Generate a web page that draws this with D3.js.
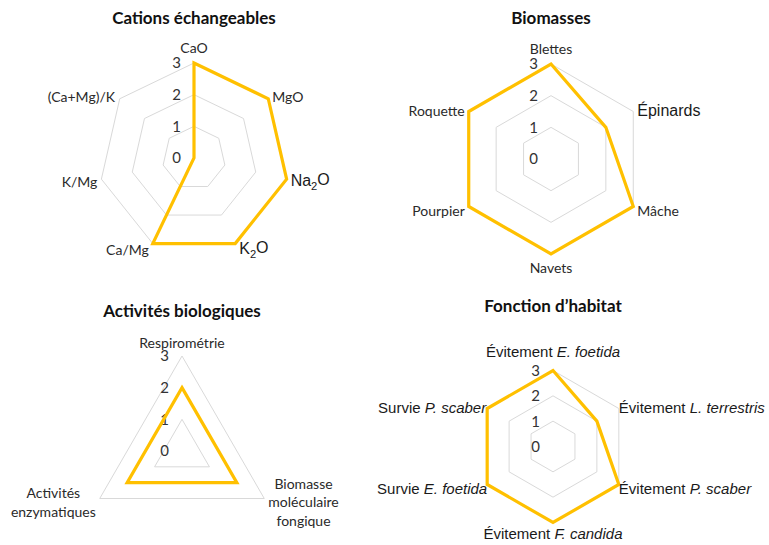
<!DOCTYPE html>
<html>
<head>
<meta charset="utf-8">
<script src="https://cdn.jsdelivr.net/npm/d3@7"></script>
<style>
  body { margin: 0; background: #fff; }
  svg { display: block; }
</style>
</head>
<body>
<svg id="chart" width="769" height="545"></svg>
<script>
// ---- data ----
const ticks = [0, 1, 2, 3];

const cationAxes = ["CaO", "MgO", "Na2O", "K2O", "Ca/Mg", "K/Mg", "(Ca+Mg)/K"];
const cationValues = [3, 3, 3, 3, 3, 0, 0];

const biomassAxes = ["Blettes", "Épinards", "Mâche", "Navets", "Pourpier", "Roquette"];
const biomassValues = [3, 2, 3, 3, 3, 3];

const activityAxes = ["Respirométrie", "Biomasse\nmoléculaire\nfongique", "Activités\nenzymatiques"];
const activityValues = [2, 2, 2];

const habitatPrefix = ["Évitement", "Évitement", "Évitement", "Évitement", "Survie", "Survie"];
const habitatSpecies = ["E. foetida", "L. terrestris", "P. scaber", "F. candida", "E. foetida", "P. scaber"];
const habitatValues = [3, 2, 3, 3, 3, 3];

// ---- styling ----
const LINE = "#FFC000";
const GRID = "#d9d9d9";
const CAL = "Lato, 'Open Sans', sans-serif";
const ARIAL = "'Liberation Sans', Arial, sans-serif";

const svg = d3.select("#chart");

// label renderers
function plainLabel(text, name) {
  const lines = name.split("\n");
  lines.forEach((ln, k) => {
    text.append("tspan").attr("x", 0).attr("dy", k === 0 ? 0 : "1.32em").text(ln);
  });
}
function chemLabel(text, name) {
  // digits inside a formula are drawn as subscripts
  const parts = name.split(/(\d)/).filter(p => p.length);
  parts.forEach(p => {
    if (/^\d$/.test(p)) {
      text.append("tspan").attr("font-size", "0.7em").attr("dy", "0.3em").text(p);
    } else {
      const t = text.append("tspan").text(p);
      if (text.selectAll("tspan").size() > 1) t.attr("dy", "-0.3em");
    }
  });
}
function speciesLabel(text, d) {
  text.append("tspan").text(d.prefix + " ");
  text.append("tspan").attr("font-style", "italic").text(d.species);
}

function radar(cfg) {
  const n = cfg.labels.length;
  const r = d3.scaleLinear().domain([0, 3]).range([0, cfg.radius]);
  const angle = i => i * 2 * Math.PI / n;
  const g = svg.append("g").attr("transform", `translate(${cfg.cx},${cfg.cy})`);

  // title
  svg.append("text")
    .attr("x", cfg.cx + (cfg.titleDx || 0)).attr("y", cfg.titleY)
    .attr("text-anchor", "middle")
    .attr("font-family", CAL).attr("font-weight", "bold")
    .attr("font-size", 17).attr("fill", "#111")
    .text(cfg.title);

  // concentric grid polygons
  const ring = d3.lineRadial()
    .angle((d, i) => angle(i))
    .radius(d => r(d))
    .curve(d3.curveLinearClosed);
  g.selectAll("path.ring")
    .data(ticks.filter(t => t > 0))
    .join("path")
    .attr("class", "ring")
    .attr("d", t => ring(d3.range(n).map(() => t)))
    .attr("fill", "none").attr("stroke", GRID).attr("stroke-width", 1);

  // value tick labels along the first axis
  g.selectAll("text.tick")
    .data(ticks)
    .join("text")
    .attr("class", "tick")
    .attr("x", -13).attr("y", t => -r(t))
    .attr("dy", "0.36em")
    .attr("text-anchor", "end")
    .attr("font-family", CAL).attr("font-size", 15).attr("fill", "#333")
    .text(d => d);

  // series
  const series = d3.lineRadial()
    .angle((d, i) => angle(i))
    .radius(d => r(d))
    .curve(d3.curveLinearClosed);
  g.append("path")
    .attr("d", series(cfg.values))
    .attr("fill", "none").attr("stroke", LINE)
    .attr("stroke-width", 3.2).attr("stroke-linejoin", "miter");

  // category labels around the outer ring
  cfg.labels.forEach((lab, i) => {
    const a = angle(i);
    const s = Math.sin(a), c = Math.cos(a);
    const vx = r(3) * s, vy = -r(3) * c;
    const big = cfg.bigLabels && cfg.bigLabels.has(cfg.names[i]);
    const t = g.append("text")
      .attr("font-family", big || cfg.arial ? ARIAL : CAL)
      .attr("font-size", big ? 16 : cfg.labelSize)
      .attr("fill", big || cfg.arial ? "#1a1a1a" : "#2a2a2a")
      .attr("text-anchor", "middle");
    cfg.render(t, lab);
    const bb = t.node().getBBox();
    let tx, ty;
    if (Math.abs(s) < 0.01) {
      tx = vx - (bb.x + bb.width / 2);
      const cyTarget = c > 0 ? vy - cfg.topGap : vy + cfg.bottomGap;
      ty = cyTarget - (bb.y + bb.height / 2);
    } else {
      tx = s > 0 ? vx + cfg.sideGap - bb.x : vx - cfg.sideGap - (bb.x + bb.width);
      const cyTarget = vy + 1 - 5 * c;
      ty = cyTarget - (bb.y + bb.height / 2);
    }
    t.attr("transform", `translate(${tx},${ty})`);
  });
}

radar({
  title: "Cations échangeables", titleY: 24,
  cx: 194, cy: 158, radius: 95,
  labels: cationAxes, names: cationAxes, values: cationValues,
  render: chemLabel, labelSize: 14,
  bigLabels: new Set(["Na2O", "K2O"]),
  topGap: 16, bottomGap: 13, sideGap: 4
});

radar({
  title: "Biomasses", titleY: 24,
  cx: 551, cy: 159, radius: 95,
  labels: biomassAxes, names: biomassAxes, values: biomassValues,
  render: plainLabel, labelSize: 14,
  bigLabels: new Set(["Épinards"]),
  topGap: 16, bottomGap: 13, sideGap: 4
});

radar({
  title: "Activités biologiques", titleY: 317,
  cx: 182, cy: 451, radius: 95,
  labels: activityAxes, names: activityAxes, values: activityValues,
  render: plainLabel, labelSize: 14,
  topGap: 14, bottomGap: 13, sideGap: 4
});

radar({
  title: "Fonction d’habitat", titleY: 312,
  cx: 553, cy: 446.5, radius: 76,
  labels: habitatPrefix.map((p, i) => ({ prefix: p, species: habitatSpecies[i] })),
  names: habitatPrefix, values: habitatValues,
  render: speciesLabel, labelSize: 15, arial: true,
  topGap: 19, bottomGap: 11, sideGap: 0
});
</script>
</body>
</html>
